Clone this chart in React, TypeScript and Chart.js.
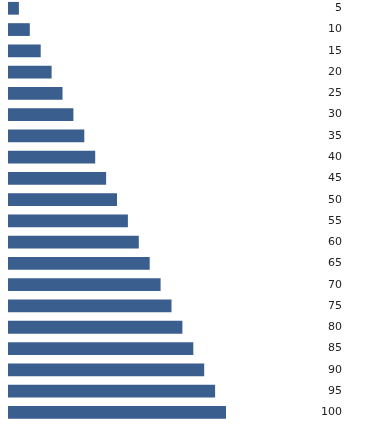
import React, { useEffect, useRef } from "react";
import { Chart, registerables } from "chart.js";

Chart.register(...registerables);

const categories: string[] = ["5", "10", "15", "20", "25", "30", "35", "40", "45", "50", "55", "60", "65", "70", "75", "80", "85", "90", "95", "100"];
const values: number[] = [5, 10, 15, 20, 25, 30, 35, 40, 45, 50, 55, 60, 65, 70, 75, 80, 85, 90, 95, 100];

export default function App() {
  const ref = useRef<HTMLCanvasElement | null>(null);
  useEffect(() => {
    if (!ref.current) return;
    const chart = new Chart(ref.current, {
      type: "bar",
      data: {
        labels: categories,
        datasets: [
          {
            data: values,
            backgroundColor: "#3a5f8f",
            borderWidth: 0,
            categoryPercentage: 1,
            barPercentage: 0.6,
            clip: false as any,
          },
        ],
      },
      options: {
        indexAxis: "y",
        animation: false,
        responsive: false,
        layout: { padding: { left: 8, right: 32, top: 8.3, bottom: 16.7 } },
        plugins: { legend: { display: false }, tooltip: { enabled: false } },
        scales: {
          x: { display: false, min: 0, max: 100 },
          y: {
            position: "right",
            offset: false,
            grid: { display: false, drawTicks: false },
            border: { display: false },
            afterFit: (axis: any) => {
              axis.width = 116;
              axis.paddingTop = 0;
              axis.paddingBottom = 0;
            },
            ticks: {
              padding: 95,
              crossAlign: "far",
              autoSkip: false,
              color: "#222",
              font: { family: "DejaVu Sans", size: 11 },
            },
          },
        },
      },
    });
    return () => chart.destroy();
  }, []);
  return (
    <div style={{ position: "absolute", left: 0, top: 0, width: 374, height: 429 }}>
      <canvas ref={ref} width={374} height={429} style={{ display: "block" }} />
    </div>
  );
}
